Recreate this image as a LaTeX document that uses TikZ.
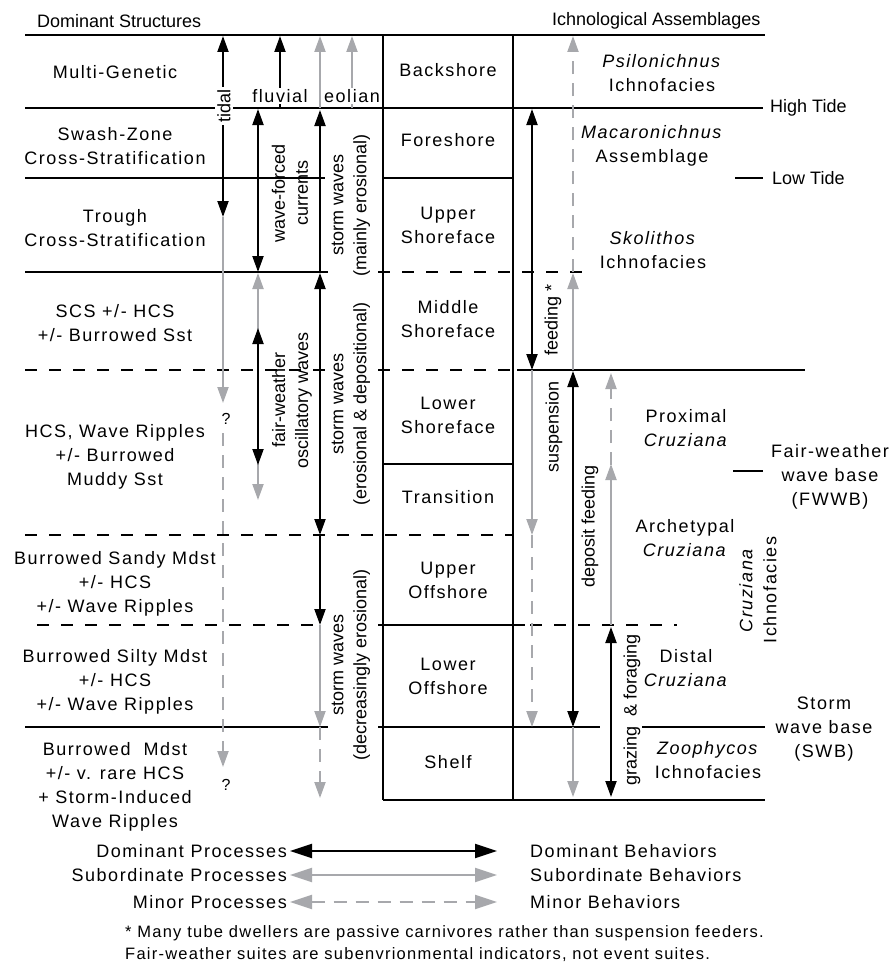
\documentclass[tikz,border=0pt]{standalone}
\usepackage{fontspec}
\setmainfont{Liberation Sans}
\newfontfamily\lsfont[LetterSpace=8.5]{Liberation Sans}
\newfontfamily\ftfont[LetterSpace=7.5]{Liberation Sans}
\usetikzlibrary{arrows.meta}
\definecolor{garr}{RGB}{167,168,172}
\begin{document}
\begin{tikzpicture}[x=1pt,y=-1pt,
  >={Triangle[length=16pt,width=11pt]},
  legtip/.style={>={Triangle[length=22pt,width=14pt]}},
  ln/.style={line width=1.6pt},
  dln/.style={line width=1.6pt, dash pattern=on 12pt off 12pt},
  blk/.style={line width=2pt, black},
  gry/.style={line width=2pt, garr},
  gryd/.style={line width=2pt, garr, dash pattern=on 13pt off 9pt},
  lbl/.style={align=center, inner sep=0pt, font=\lsfont\fontsize{18}{24}\selectfont},
  vlbl/.style={align=center, inner sep=0pt, rotate=90, font=\fontsize{18}{23}\selectfont},
  plain/.style={inner sep=0pt, font=\fontsize{18}{22}\selectfont},
  qm/.style={inner sep=0pt, font=\fontsize{16}{18}\selectfont},
  foot/.style={inner sep=0pt, anchor=base west, font=\ftfont\fontsize{16.5}{20}\selectfont}]
\useasboundingbox[fill=white] (0,0) rectangle (890,966);

% ---- structure lines ----
\draw[ln] (25,35) -- (765,35);
\draw[ln] (25,108) -- (215,108);
\draw[ln] (232,108) -- (763,108);
\draw[ln] (25,178) -- (325,178);
\draw[ln] (383,178) -- (513,178);
\draw[ln] (25,272) -- (328,272);
\draw[dln] (378,272) -- (587,272);
\draw[dln] (25,370) -- (328,370);
\draw[dln] (378,370) -- (512,370);
\draw[ln] (517,370) -- (805,370);
\draw[ln] (383,464) -- (513,464);
\draw[dln] (25,535) -- (513,535);
\draw[dln] (37,625) -- (318,625);
\draw[ln] (378,625) -- (525,625);
\draw[dln] (530,625) -- (677,625);
\draw[ln] (25,727) -- (328,727);
\draw[ln] (378,727) -- (600,727);
\draw[ln] (642,727) -- (765,727);
\draw[ln] (383,800) -- (765,800);
\draw[ln] (383,35) -- (383,800);
\draw[ln] (513,35) -- (513,800);
\draw[ln] (735,178) -- (763,178);
\draw[ln] (733,471) -- (763,471);

% ---- left arrows ----
\draw[gry,->] (223,217) -- (223,403);
\draw[blk,<->] (223,36) -- (223,217);
\draw[gryd,->] (223,433) -- (223,767);
\draw[blk,->] (280,108) -- (280,36);
\draw[gry,->] (320,108) -- (320,36);
\draw[gry,->] (352,108) -- (352,36);
\draw[blk,<->] (258,109) -- (258,272);
\draw[blk,->] (320,272) -- (320,110);
\draw[blk,<->] (320,273) -- (320,535);
\draw[blk,->] (320,535) -- (320,625);
\draw[gry,->] (320,625) -- (320,727);
\draw[gryd,->] (320,727) -- (320,798);
\draw[gry,<->] (258,273) -- (258,500);
\draw[blk,<->] (258,328) -- (258,465);

% ---- right arrows ----
\draw[gryd,->] (573,272) -- (573,36);
\draw[gry,->] (573,370) -- (573,273);
\draw[blk,<->] (532,109) -- (532,370);
\draw[gry,->] (532,370) -- (532,535);
\draw[gryd,->] (532,535) -- (532,727);
\draw[blk,<->] (573,371) -- (573,727);
\draw[gry,->] (573,727) -- (573,797);
\draw[gryd,->] (611,465) -- (611,373);
\draw[gry,->] (611,625) -- (611,464);
\draw[blk,<->] (611,627) -- (611,797);

% ---- headers ----
\node[plain, anchor=west] (hd1) at (37,21) {Dominant Structures};
\node[plain, anchor=west] (hd2) at (552,21) {Ichnological Assemblages};

% ---- left labels ----
\node[lbl] (mg) at (115,72) {Multi-Genetic};
\node[lbl] (sw) at (115,146) {Swash-Zone\\Cross-Stratification};
\node[lbl] (tr) at (115,228) {Trough\\Cross-Stratification};
\node[lbl] (scs) at (115,323) {SCS +/- HCS\\+/- Burrowed Sst};
\node[lbl] (hcs) at (115,457) {HCS, Wave Ripples\\+/- Burrowed\\Muddy Sst};
\node[lbl] (bsm) at (115,584) {Burrowed Sandy Mdst\\+/- HCS\\+/- Wave Ripples};
\node[lbl] (bsi) at (115,682) {Burrowed Silty Mdst\\+/- HCS\\+/- Wave Ripples};
\node[lbl] (bm) at (115,787) {Burrowed~ Mdst\\+/- v. rare HCS\\+ Storm-Induced\\Wave Ripples};

% ---- box labels ----
\node[lbl] (bk) at (448,70) {Backshore};
\node[lbl] (fs) at (448,140) {Foreshore};
\node[lbl] (us) at (448,225) {Upper\\Shoreface};
\node[lbl] (ms) at (448,319) {Middle\\Shoreface};
\node[lbl] (ls) at (448,415) {Lower\\Shoreface};
\node[lbl] (tn) at (448,497) {Transition};
\node[lbl] (uo) at (448,580) {Upper\\Offshore};
\node[lbl] (lo) at (448,676) {Lower\\Offshore};
\node[lbl] (sh) at (448,762) {Shelf};

% ---- right labels ----
\node[lbl] (psi) at (662,73) {\textit{Psilonichnus}\\Ichnofacies};
\node[lbl] (mac) at (652,146) {\textit{Macaronichnus}\\Assemblage};
\node[lbl] (sko) at (653,250) {\textit{Skolithos}\\Ichnofacies};
\node[lbl] (prox) at (686,428) {Proximal\\\textit{Cruziana}};
\node[lbl] (arch) at (685,538) {Archetypal\\\textit{Cruziana}};
\node[lbl] (dist) at (686,668) {Distal\\\textit{Cruziana}};
\node[lbl] (zoo) at (708,760) {\textit{Zoophycos}\\Ichnofacies};
\node[lbl, rotate=90] (cruz) at (758,590) {\textit{Cruziana}\\Ichnofacies};
\node[lbl] (fwwb) at (830,477) {Fair-weather\\wave base\\(FWWB)};
\node[lbl] (swb) at (824,729) {Storm\\wave base\\(SWB)};
\node[plain, anchor=west] (ht) at (770,108) {High Tide};
\node[plain, anchor=west] (lt) at (772,178) {Low Tide};

% ---- process labels ----
\node[vlbl, fill=white, inner sep=2pt] (ttid) at (224,106) {tidal};
\node[lbl, fill=white, inner sep=1pt] (tflu) at (280,96) {fluvial};
\node[lbl, fill=white, inner sep=1pt] (teol) at (352,96) {eolian};
\node[vlbl] (twf) at (290,193) {wave-forced\\currents};
\node[vlbl] (tsw1) at (351,205) {storm waves\\(mainly erosional)};
\node[vlbl] (tsw2) at (351,404) {storm waves\\(erosional \& depositional)};
\node[vlbl] (tsw3) at (351,665) {storm waves\\(decreasingly erosional)};
\node[vlbl] (tfw) at (292,400) {fair-weather\\oscillatory waves};
\node[qm] (q1) at (226,419) {?};
\node[qm] (q2) at (226,785) {?};
\node[vlbl] (tfeed) at (553,320) {feeding *};
\node[vlbl] (tsus) at (554,427) {suspension};
\node[vlbl] (tdep) at (590,526) {deposit feeding};
\node[vlbl] (tgraz) at (632,710) {grazing~ \& foraging};

% ---- legend ----
\node[lbl, anchor=east] (lp1) at (287,851) {Dominant Processes};
\node[lbl, anchor=east] (lp2) at (287,875) {Subordinate Processes};
\node[lbl, anchor=east] (lp3) at (287,902) {Minor Processes};
\node[lbl, anchor=west] (lb1) at (530,851) {Dominant Behaviors};
\node[lbl, anchor=west] (lb2) at (530,875) {Subordinate Behaviors};
\node[lbl, anchor=west] (lb3) at (530,902) {Minor Behaviors};
\draw[blk, line width=2.2pt, legtip, <->] ([xshift=3pt]lp1.east) -- ([xshift=-33pt]lb1.west);
\draw[gry, legtip, <->] ([xshift=3pt]lp2.east) -- ([xshift=-33pt]lb2.west);
\draw[gryd, legtip, <->] ([xshift=3pt]lp3.east) -- ([xshift=-33pt]lb3.west);

\node[foot] (fn1) at (125,937) {* Many tube dwellers are passive carnivores rather than suspension feeders.};
\node[foot] (fn2) at (125,959) {Fair-weather suites are subenvrionmental indicators, not event suites.};
\end{tikzpicture}
\end{document}
